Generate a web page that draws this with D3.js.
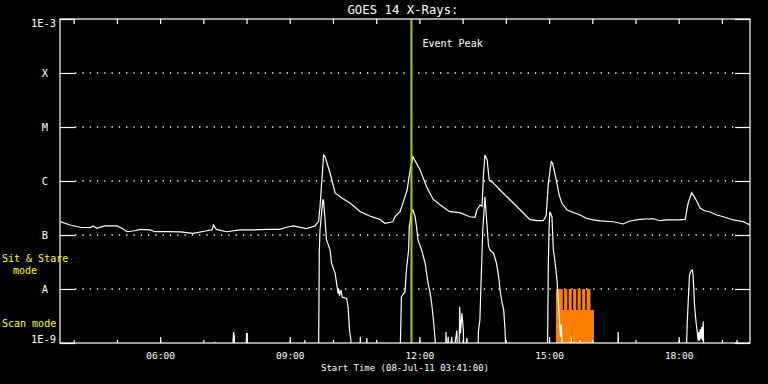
<!DOCTYPE html>
<meta charset="utf-8">
<style>
body { margin: 0; background: #000; }
svg { display: block; background: #000; }
text { font-family: "DejaVu Sans Mono", monospace; fill: #fff; }
.axis path { display: none; }
.axis line { stroke: #fff; stroke-width: 1.2; }
.axis text { font-family: "DejaVu Sans Mono", monospace; fill: #fff; font-size: 9.5px; }
.grid { stroke: #fff; stroke-width: 1.3; stroke-dasharray: 1.3,6; }
.curve { fill: none; stroke: #fff; stroke-width: 1.2; }
.flag { fill: #ff8000; }
</style>
<svg width="768" height="384"></svg>
<script src="https://d3js.org/d3.v7.min.js"></script>
<script>

// long channel (1-8 A), W/m^2
var longT = ["03:41","03:55","04:09","04:23","04:27","04:32","04:43","05:00","05:07","05:14","05:25","05:32","05:46","05:53","06:09","06:28","06:46","07:05","07:12","07:14","07:18","07:32","07:51","08:09","08:28","08:46","08:56","09:05","09:23","09:35","09:40","09:42","09:47","09:49","09:56","10:03","10:13","10:24","10:38","10:51","11:05","11:12","11:23","11:26","11:33","11:37","11:43","11:45","11:48","11:51","12:01","12:10","12:19","12:29","12:42","12:56","13:10","13:17","13:20","13:24","13:27","13:29","13:31","13:34","13:37","13:42","13:52","14:06","14:20","14:33","14:43","14:52","14:56","14:59","15:03","15:05","15:11","15:14","15:18","15:25","15:43","15:52","16:01","16:11","16:29","16:43","16:52","17:06","17:15","17:25","17:34","17:43","17:52","18:02","18:09","18:13","18:18","18:23","18:30","18:36","18:43","18:53","19:02","19:16","19:30","19:39"];
var longV = [1.77e-7,1.53e-7,1.39e-7,1.37e-7,1.47e-7,1.33e-7,1.47e-7,1.47e-7,1.33e-7,1.15e-7,1.20e-7,1.27e-7,1.24e-7,1.15e-7,1.15e-7,1.14e-7,1.07e-7,1.20e-7,1.24e-7,1.53e-7,1.27e-7,1.15e-7,1.24e-7,1.24e-7,1.27e-7,1.27e-7,1.39e-7,1.47e-7,1.31e-7,1.47e-7,1.77e-7,3.34e-7,3.0e-6,2.82e-6,1.39e-6,6.0e-7,4.78e-7,3.86e-7,2.70e-7,2.25e-7,1.95e-7,1.65e-7,1.76e-7,2.18e-7,2.70e-7,3.86e-7,6.81e-7,1.04e-6,1.84e-6,2.82e-6,1.60e-6,7.84e-7,4.6e-7,3.59e-7,2.70e-7,2.59e-7,2.18e-7,2.13e-7,2.90e-7,3.59e-7,3.4e-7,1.39e-6,3.03e-6,2.45e-6,1.04e-6,9.3e-7,6.81e-7,4.45e-7,2.90e-7,1.95e-7,1.84e-7,1.84e-7,2.3e-7,9.06e-7,2.28e-6,2.13e-6,9.06e-7,5.5e-7,3.86e-7,2.90e-7,2.35e-7,2.04e-7,1.90e-7,1.82e-7,1.76e-7,1.60e-7,1.82e-7,1.95e-7,1.98e-7,2.00e-7,1.84e-7,1.90e-7,1.90e-7,1.90e-7,1.95e-7,3.86e-7,6.07e-7,4.78e-7,3.12e-7,2.81e-7,2.70e-7,2.35e-7,2.18e-7,1.90e-7,1.76e-7,1.53e-7];

// short channel (0.5-4 A), W/m^2
var shortT = ["03:41","07:15","07:16","07:17","07:40","07:42","07:43","07:44","07:59","08:00","08:01","08:02","09:20","09:21","09:22","09:40","09:41","09:42","09:46","09:47","09:49","09:51","09:56","09:58","10:03","10:05","10:07","10:08","10:09","10:11","10:13","10:19","10:21","10:23","10:25","10:26","10:37","10:38","10:39","10:46","10:47","10:48","11:33","11:34","11:35","11:40","11:42","11:45","11:46","11:49","11:51","11:54","11:56","11:58","12:03","12:08","12:10","12:12","12:15","12:17","12:19","12:22","12:23","12:36","12:37","12:38","12:40","12:41","12:45","12:46","12:52","12:53","12:55","12:56","12:57","12:59","13:01","13:02","13:06","13:07","13:21","13:22","13:24","13:26","13:28","13:31","13:33","13:36","13:38","13:43","13:47","13:50","13:52","13:54","13:57","13:59","14:00","14:57","14:58","14:59","15:00","15:01","15:04","15:06","15:08","15:11","15:13","15:15","15:16","15:17","15:18","15:19","15:30","15:31","15:32","15:42","15:43","15:44","16:35","16:36","16:37","18:10","18:11","18:12","18:13","18:15","18:17","18:19","18:20","18:22","18:24","18:26","18:27","18:28","18:29","18:30","18:31","18:32","18:33","18:34","18:35","19:20","19:21","19:22","19:39"];
var shortV = [5e-10,5e-10,1.05e-9,5e-10,5e-10,1.6e-9,1.3e-9,5e-10,5e-10,1.5e-9,1.5e-9,5e-10,5e-10,1.14e-9,5e-10,5e-10,5e-8,1.24e-7,4.6e-7,4.1e-7,1.9e-7,8.1e-8,5.3e-8,3.0e-8,1.95e-8,1.28e-8,8.3e-9,1.0e-8,7.5e-9,9.5e-9,7.0e-9,6.7e-9,4.7e-9,1.7e-9,1.1e-9,5e-10,5e-10,1.3e-9,5e-10,5e-10,1.24e-9,5e-10,5e-10,1.7e-9,7.2e-9,8.9e-9,2.25e-8,5.3e-8,1.43e-7,2.7e-7,2.9e-7,2.18e-7,1.43e-7,8.1e-8,5.3e-8,3.0e-8,1.95e-8,1.28e-8,8.3e-9,5.4e-9,3.1e-9,1.1e-9,5e-10,5e-10,1.6e-9,5e-10,1.3e-9,5e-10,1.3e-9,5e-10,1.7e-9,5e-10,5e-10,4.7e-9,1.5e-9,3.55e-9,1.7e-9,5e-10,1.24e-9,5e-10,5e-10,1.7e-9,2.7e-9,1.95e-8,1.24e-7,5.1e-7,2.2e-7,6.2e-8,5.3e-8,4.6e-8,3.0e-8,1.7e-8,9.6e-9,6.3e-9,4.1e-9,1.7e-9,5e-10,5e-10,1.1e-9,3.0e-8,1.24e-7,2.7e-7,2.2e-7,5.3e-8,3.4e-8,1.5e-8,5.4e-9,2.0e-9,1.3e-9,2.2e-9,1.1e-9,5e-10,5e-10,1.27e-9,5e-10,5e-10,1.14e-9,5e-10,5e-10,1.6e-9,5e-10,5e-10,1.0e-9,2.7e-9,5.0e-9,1.8e-8,2.15e-8,2.25e-8,1.8e-8,5.0e-9,2.5e-9,1.5e-9,1.1e-9,1.6e-9,1.1e-9,1.8e-9,1.2e-9,2.0e-9,1.1e-9,2.5e-9,5e-10,5e-10,1.14e-9,5e-10,5e-10];

// scan / sit & stare mode flags (orange)
var flagT = ["15:09:36","15:19:00","15:21:00","15:25:18","15:27:12","15:31:30","15:33:30","15:37:48","15:39:42","15:44:00","15:46:00","15:50:18","15:52:12","15:57:30","16:02:18"];
var flagV = [1e-8,4.1e-9,1e-8,4.1e-9,1e-8,4.1e-9,1e-8,4.1e-9,1e-8,4.1e-9,1e-8,4.1e-9,1e-8,4.1e-9,1e-9];

var decades = [1e-9,1e-8,1e-7,1e-6,1e-5,1e-4,1e-3];
var decadeLabels = ["1E-9","A","B","C","M","X","1E-3"];
var gridLevels = [1e-8,1e-7,1e-6,1e-5,1e-4];
var startTime = "03:41", endTime = "19:39", peakTime = "11:49";

var parse = function(s) {
  var f = s.length > 5 ? "%Y-%m-%d %H:%M:%S" : "%Y-%m-%d %H:%M";
  return d3.timeParse(f)("2011-07-08 " + s);
};

var svg = d3.select("svg"),
    margin = {top: 19, right: 18, bottom: 41, left: 60},
    width = +svg.attr("width"),
    height = +svg.attr("height");

var x = d3.scaleTime().domain([parse(startTime), parse(endTime)]).range([margin.left, width - margin.right]),
    y = d3.scaleLog().domain([1e-9, 1e-3]).range([height - margin.bottom, margin.top]);

var x0 = margin.left, x1 = width - margin.right, y0 = height - margin.bottom, y1 = margin.top;

svg.append("defs").append("clipPath").attr("id", "plot")
  .append("rect").attr("x", x0).attr("y", y1).attr("width", x1 - x0).attr("height", y0 - y1);

// dotted grid
svg.selectAll(".grid").data(gridLevels).enter().append("line")
  .attr("class", "grid")
  .attr("x1", x0 + 15).attr("x2", x1 - 15)
  .attr("y1", function(d) { return y(d); })
  .attr("y2", function(d) { return y(d); });

// mode flags
var flags = flagT.map(function(t, i) { return {t: parse(t), v: flagV[i]}; });
svg.append("path")
  .datum(flags)
  .attr("class", "flag")
  .attr("clip-path", "url(#plot)")
  .attr("d", d3.area().curve(d3.curveStepAfter)
    .x(function(d) { return x(d.t); })
    .y0(y(1e-9))
    .y1(function(d) { return y(d.v); }));

var line = d3.line()
  .x(function(d) { return x(d.t); })
  .y(function(d) { return y(d.v); });

var longData = longT.map(function(t, i) { return {t: parse(t), v: longV[i]}; });
var shortData = shortT.map(function(t, i) { return {t: parse(t), v: shortV[i]}; });

svg.append("path").datum(longData).attr("class", "curve").attr("clip-path", "url(#plot)").attr("d", line);
svg.append("path").datum(shortData).attr("class", "curve").attr("clip-path", "url(#plot)").attr("d", line);

// event peak
svg.append("line")
  .attr("x1", x(parse(peakTime))).attr("x2", x(parse(peakTime)))
  .attr("y1", y1).attr("y2", y0)
  .attr("stroke", "#a0d000").attr("stroke-width", 2);
svg.append("text")
  .attr("x", x(parse(peakTime)) + 11).attr("y", 47)
  .style("font-size", "10px")
  .text("Event Peak");

// frame
svg.append("rect")
  .attr("x", x0).attr("y", y1).attr("width", x1 - x0).attr("height", y0 - y1)
  .attr("fill", "none").attr("stroke", "#fff").attr("stroke-width", 1.2);

// time axes
svg.append("g").attr("class", "axis")
  .attr("transform", "translate(0," + y0 + ")")
  .call(d3.axisBottom(x).ticks(d3.timeHour.every(1)).tickSizeInner(-3).tickSizeOuter(0).tickFormat(""));
svg.append("g").attr("class", "axis")
  .attr("transform", "translate(0," + y0 + ")")
  .call(d3.axisBottom(x).ticks(d3.timeHour.every(3)).tickSizeInner(-6).tickSizeOuter(0).tickPadding(9)
    .tickFormat(d3.timeFormat("%H:%M")));
svg.append("g").attr("class", "axis")
  .attr("transform", "translate(0," + y1 + ")")
  .call(d3.axisTop(x).ticks(d3.timeHour.every(1)).tickSizeInner(-5).tickSizeOuter(0).tickFormat(""));

// flux axes
svg.append("g").attr("class", "axis")
  .attr("transform", "translate(" + x0 + ",0)")
  .call(d3.axisLeft(y).tickValues(decades).tickSizeInner(-15).tickSizeOuter(0).tickFormat(""));
svg.append("g").attr("class", "axis")
  .attr("transform", "translate(" + x1 + ",0)")
  .call(d3.axisRight(y).tickValues(decades).tickSizeInner(-15).tickSizeOuter(0).tickFormat(""));

svg.selectAll(".ylab").data(decades).enter().append("text")
  .attr("class", "ylab")
  .attr("text-anchor", "end")
  .style("font-size", "10.4px")
  .attr("x", function(d, i) { return (i === 0 || i === decades.length - 1) ? 56 : 48; })
  .attr("y", function(d, i) {
    if (i === 0) return y(d);
    if (i === decades.length - 1) return y(d) + 8;
    return y(d) + 3.6;
  })
  .text(function(d, i) { return decadeLabels[i]; });

// mode labels
svg.append("text").attr("x", 2).attr("y", 262).style("fill", "#ff0").style("font-size", "10px").text("Sit & Stare");
svg.append("text").attr("x", 13).attr("y", 274).style("fill", "#ff0").style("font-size", "10px").text("mode");
svg.append("text").attr("x", 2).attr("y", 327).style("fill", "#ff0").style("font-size", "10px").text("Scan mode");

// titles
svg.append("text")
  .attr("x", 403).attr("y", 14)
  .attr("text-anchor", "middle")
  .style("font-size", "12.3px")
  .text("GOES 14 X-Rays:");
svg.append("text")
  .attr("x", 405).attr("y", 371)
  .attr("text-anchor", "middle")
  .style("font-size", "9px")
  .text("Start Time (08-Jul-11 03:41:00)");

</script>
